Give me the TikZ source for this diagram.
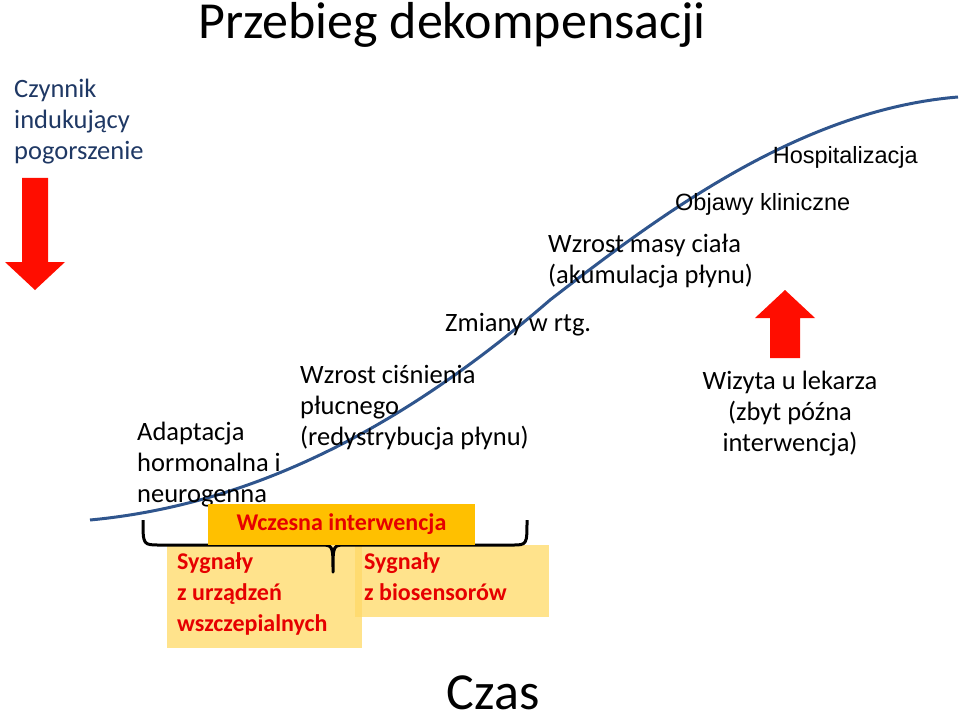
\documentclass[tikz,border=0pt]{standalone}
\usepackage{fontspec}
\setmainfont{Carlito}
\newfontfamily\arial{Liberation Sans}
\definecolor{navy}{RGB}{31,56,100}
\definecolor{curveblue}{RGB}{47,85,141}
\definecolor{lightyel}{RGB}{255,217,102}
\definecolor{orangey}{RGB}{255,192,0}
\definecolor{redt}{RGB}{230,0,0}
\begin{document}
\begin{tikzpicture}[x=1pt,y=-1pt,
  txt/.style={font=\fontsize{26.5}{31}\selectfont, align=left, anchor=north west, inner sep=0pt, text=black},
  redtxt/.style={font=\bfseries\fontsize{24}{31}\selectfont, align=left, text=redt},
  bigarrow/.style={fill=red!90!orange, draw=none}]
\useasboundingbox (0,0) rectangle (960,722);
\node[anchor=north, font=\fontsize{52}{56}\selectfont, inner sep=0pt] (title) at (452,2) {Przebieg dekompensacji};
\node[txt, text=navy] (czyn) at (14,79) {Czynnik\\indukujący\\pogorszenie};
% curve
\draw[line width=3pt, color=curveblue] (90,520) .. controls (250,505) and (400,430) .. (550,300) .. controls (660,215) and (800,110) .. (958,97);
% arrows
\fill[bigarrow] (22,178) -- (48,178) -- (48,262) -- (65,262) -- (35,290) -- (5,262) -- (22,262) -- cycle;
\fill[bigarrow] (770,358) -- (800,358) -- (800,318) -- (815,318) -- (785,290) -- (755,318) -- (770,318) -- cycle;
\node[anchor=north east, font=\arial\fontsize{23.5}{26}\selectfont, inner sep=0pt] (hosp) at (918,146) {Hospitalizacja};
\node[anchor=north west, font=\arial\fontsize{23.5}{26}\selectfont, inner sep=0pt] (obj) at (675,193) {Objawy kliniczne};
\node[txt] (masa) at (548,234) {Wzrost masy ciała\\(akumulacja płynu)};
\node[txt] (rtg) at (445,313) {Zmiany w rtg.};
\node[txt] (cis) at (300,365) {Wzrost ciśnienia\\płucnego\\(redystrybucja płynu)};
\node[txt] (adapt) at (137,422) {Adaptacja\\hormonalna i\\neurogenna};
\node[txt, align=center, anchor=north] (wiz) at (790,371) {Wizyta u lekarza\\(zbyt późna\\interwencja)};
\node[anchor=north, font=\fontsize{52}{56}\selectfont, inner sep=0pt] (czas) at (493,676) {Czas};
% boxes
\fill[lightyel, opacity=0.75] (167,545) rectangle (362,648);
\fill[lightyel, opacity=0.75] (355,545) rectangle (549,617);
\node[redtxt, anchor=north west, inner sep=0pt] (s1) at (177,552) {Sygnały\\z urządzeń\\wszczepialnych};
\node[redtxt, anchor=north west, inner sep=0pt] (s2) at (364,552) {Sygnały\\z biosensorów};
% brace
\draw[line width=3pt, line join=round] (143,520) .. controls (143,545) and (143,545) .. (160,545) -- (320,545) .. controls (333,545) .. (333,572) .. controls (333,545) .. (346,545) -- (512,545) .. controls (527,545) and (527,545) .. (527,520);
\node[fill=orangey, minimum width=267pt, minimum height=41pt, inner sep=0pt, font=\bfseries\fontsize{24}{30}\selectfont, text=redt] (wcz) at (341.5,524.5) {Wczesna interwencja};
\end{tikzpicture}
\end{document}
